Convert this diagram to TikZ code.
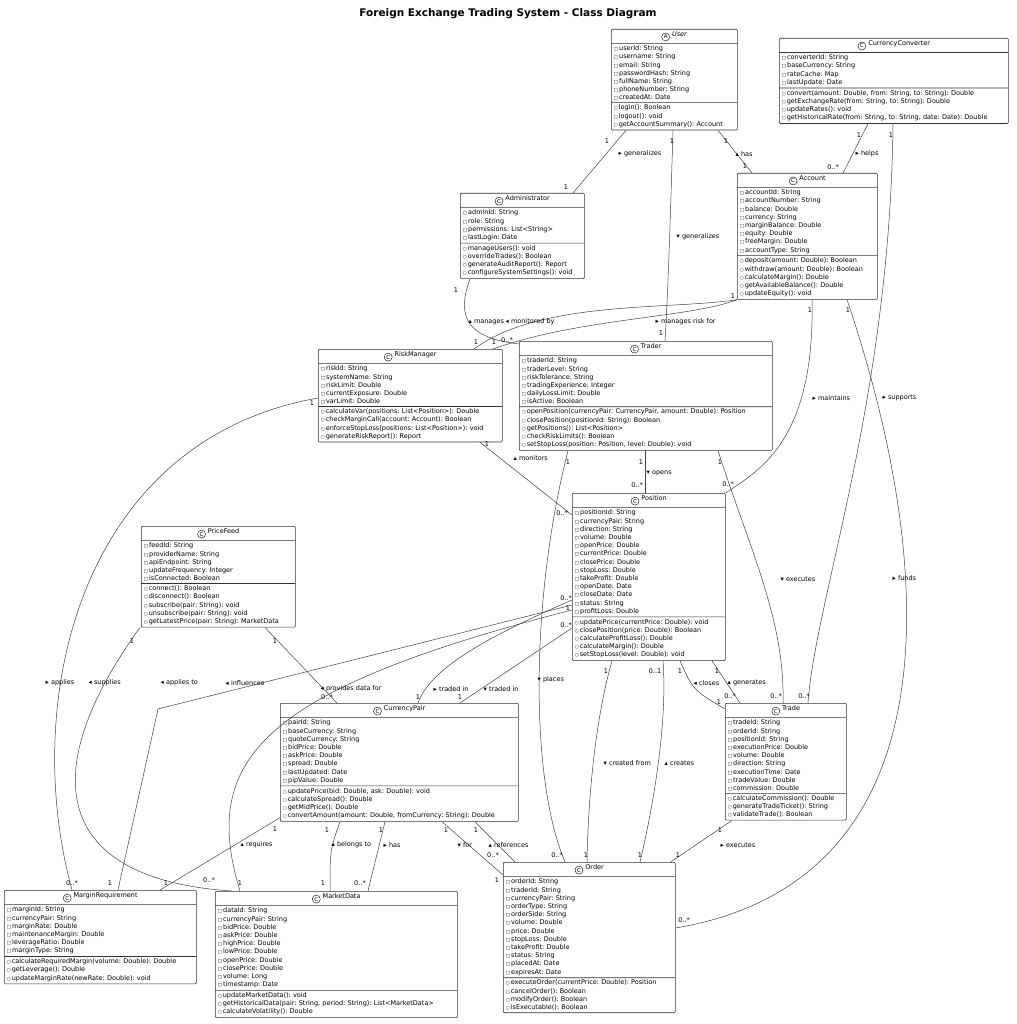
\documentclass[tikz,border=0pt]{standalone}
\usepackage{fontspec}
\setmainfont{DejaVu Sans}
\frenchspacing
\usetikzlibrary{shapes.multipart}
\newcommand\pv{{\fontsize{4.5}{4.5}\selectfont □}\,}
\newcommand\pb{{\fontsize{4.5}{4.5}\selectfont ○}\,}
\newcommand\cic[1]{\tikz[baseline=-2.4pt]\node[circle,draw,line width=0.4pt,inner sep=0pt,minimum size=8pt,font=\fontsize{5.5}{6}\selectfont]{#1};}
\tikzset{
 uml/.style={draw=black!80,line width=0.6pt,fill=white,rectangle split,rectangle split parts=3,
   align=left,anchor=north west,inner xsep=2.5pt,inner ysep=2pt,rounded corners=1pt,
   font=\fontsize{6.5}{8.2}\selectfont},
 lbl/.style={font=\fontsize{6.5}{7}\selectfont,inner sep=0.5pt},
 ll/.style={lbl,anchor=west},
 cn/.style={draw=black!75,line width=0.5pt}
}
\newcommand\umlc[7]{\node[uml,text width=#4pt-5pt] (#1) at (#2,#3) {\centering\cic{C}\ #5\par\nodepart{two}#6\nodepart{three}#7};}
\begin{document}
\begin{tikzpicture}[x=1pt,y=-1pt]
\useasboundingbox (0,0) rectangle (1016,1024);
\node[font=\fontsize{10.5}{12}\selectfont\bfseries] (title) at (508,14) {Foreign Exchange Trading System - Class Diagram};

\node[uml,text width=121pt] (user) at (611,29) {\centering\cic{A}\ \textit{User}\par\nodepart{two}\pv userId: String\\\pv username: String\\\pv email: String\\\pv passwordHash: String\\\pv fullName: String\\\pv phoneNumber: String\\\pv createdAt: Date\nodepart{three}\pb login(): Boolean\\\pb logout(): void\\\pb getAccountSummary(): Account};

\umlc{conv}{779}{38}{229}{CurrencyConverter}{\pv converterId: String\\\pv baseCurrency: String\\\pv rateCache: Map\\\pv lastUpdate: Date}{\pb convert(amount: Double, from: String, to: String): Double\\\pb getExchangeRate(from: String, to: String): Double\\\pb updateRates(): void\\\pb getHistoricalRate(from: String, to: String, date: Date): Double}

\umlc{acct}{737}{173}{140}{Account}{\pv accountId: String\\\pv accountNumber: String\\\pv balance: Double\\\pv currency: String\\\pv marginBalance: Double\\\pv equity: Double\\\pv freeMargin: Double\\\pv accountType: String}{\pb deposit(amount: Double): Boolean\\\pb withdraw(amount: Double): Boolean\\\pb calculateMargin(): Double\\\pb getAvailableBalance(): Double\\\pb updateEquity(): void}

\umlc{admin}{460}{193}{124}{Administrator}{\pv adminId: String\\\pv role: String\\\pv permissions: List<String>\\\pv lastLogin: Date}{\pb manageUsers(): void\\\pb overrideTrades(): Boolean\\\pb generateAuditReport(): Report\\\pb configureSystemSettings(): void}

\umlc{risk}{318}{349}{184}{RiskManager}{\pv riskId: String\\\pv systemName: String\\\pv riskLimit: Double\\\pv currentExposure: Double\\\pv varLimit: Double}{\pb calculateVar(positions: List<Position>): Double\\\pb checkMarginCall(account: Account): Boolean\\\pb enforceStopLoss(positions: List<Position>): void\\\pb generateRiskReport(): Report}

\umlc{trader}{519}{341}{253}{Trader}{\pv traderId: String\\\pv traderLevel: String\\\pv riskTolerance: String\\\pv tradingExperience: Integer\\\pv dailyLossLimit: Double\\\pv isActive: Boolean}{\pb openPosition(currencyPair: CurrencyPair, amount: Double): Position\\\pb closePosition(positionId: String): Boolean\\\pb getPositions(): List<Position>\\\pb checkRiskLimits(): Boolean\\\pb setStopLoss(position: Position, level: Double): void}

\umlc{pos}{572}{493}{153}{Position}{\pv positionId: String\\\pv currencyPair: String\\\pv direction: String\\\pv volume: Double\\\pv openPrice: Double\\\pv currentPrice: Double\\\pv closePrice: Double\\\pv stopLoss: Double\\\pv takeProfit: Double\\\pv openDate: Date\\\pv closeDate: Date\\\pv status: String\\\pv profitLoss: Double}{\pb updatePrice(currentPrice: Double): void\\\pb closePosition(price: Double): Boolean\\\pb calculateProfitLoss(): Double\\\pb calculateMargin(): Double\\\pb setStopLoss(level: Double): void}

\umlc{feed}{141}{526}{154}{PriceFeed}{\pv feedId: String\\\pv providerName: String\\\pv apiEndpoint: String\\\pv updateFrequency: Integer\\\pv isConnected: Boolean}{\pb connect(): Boolean\\\pb disconnect(): Boolean\\\pb subscribe(pair: String): void\\\pb unsubscribe(pair: String): void\\\pb getLatestPrice(pair: String): MarketData}

\umlc{cp}{280}{703}{238}{CurrencyPair}{\pv pairId: String\\\pv baseCurrency: String\\\pv quoteCurrency: String\\\pv bidPrice: Double\\\pv askPrice: Double\\\pv spread: Double\\\pv lastUpdated: Date\\\pv pipValue: Double}{\pb updatePrice(bid: Double, ask: Double): void\\\pb calculateSpread(): Double\\\pb getMidPrice(): Double\\\pb convertAmount(amount: Double, fromCurrency: String): Double}

\umlc{trade}{725}{703}{121}{Trade}{\pv tradeId: String\\\pv orderId: String\\\pv positionId: String\\\pv executionPrice: Double\\\pv volume: Double\\\pv direction: String\\\pv executionTime: Date\\\pv tradeValue: Double\\\pv commission: Double}{\pb calculateCommission(): Double\\\pb generateTradeTicket(): String\\\pb validateTrade(): Boolean}

\umlc{mreq}{4}{890}{192}{MarginRequirement}{\pv marginId: String\\\pv currencyPair: String\\\pv marginRate: Double\\\pv maintenanceMargin: Double\\\pv leverageRatio: Double\\\pv marginType: String}{\pb calculateRequiredMargin(volume: Double): Double\\\pb getLeverage(): Double\\\pb updateMarginRate(newRate: Double): void}

\umlc{mdata}{215}{891}{242}{MarketData}{\pv dataId: String\\\pv currencyPair: String\\\pv bidPrice: Double\\\pv askPrice: Double\\\pv highPrice: Double\\\pv lowPrice: Double\\\pv openPrice: Double\\\pv closePrice: Double\\\pv volume: Long\\\pv timestamp: Date}{\pb updateMarketData(): void\\\pb getHistoricalData(pair: String, period: String): List<MarketData>\\\pb calculateVolatility(): Double}

\umlc{order}{503}{862}{172}{Order}{\pv orderId: String\\\pv traderId: String\\\pv currencyPair: String\\\pv orderType: String\\\pv orderSide: String\\\pv volume: Double\\\pv price: Double\\\pv stopLoss: Double\\\pv takeProfit: Double\\\pv status: String\\\pv placedAt: Date\\\pv expiresAt: Date}{\pb executeOrder(currentPrice: Double): Position\\\pb cancelOrder(): Boolean\\\pb modifyOrder(): Boolean\\\pb isExecutable(): Boolean}

\coordinate (bendA) at (158,709);

\draw[cn] ([xshift=15]user.south west) -- ([xshift=113]admin.north west);
\draw[cn] ([xshift=62]user.south west) .. controls (670,230) and (668,290) .. ([xshift=146]trader.north west);
\draw[cn] ([xshift=107]user.south west) -- ([xshift=15]acct.north west);
\draw[cn] ([xshift=89]conv.south west) -- ([xshift=106]acct.north west);
\draw[cn] ([xshift=114]conv.south west) .. controls (890,400) and (815,600) .. ([xshift=83]trade.north west);
\draw[cn] ([xshift=10]admin.south west) .. controls (455,320) and (470,338) .. ([yshift=-3]trader.north west);
\draw[cn] ([xshift=156]risk.north west) .. controls (540,300) and (670,310) .. (acct.south west);
\draw[cn] ([xshift=175]risk.north west) .. controls (580,318) and (690,318) .. (acct.south west);
\draw[cn] ([xshift=162]risk.south west) -- ([yshift=-22]pos.north west);
\draw[cn] ([xshift=126]trader.south west) -- ([xshift=73]pos.north west);
\draw[cn] ([xshift=199]trader.south west) .. controls (750,550) and (785,620) .. ([xshift=58]trade.north west);
\draw[cn] ([xshift=75]acct.south west) .. controls (815,440) and (760,470) .. (pos.north east);
\draw[cn] ([xshift=110]acct.south west) .. controls (935,560) and (960,880) .. ([yshift=-66]order.north east);
\draw[cn] ([xshift=49]trader.south west) .. controls (530,600) and (530,780) .. ([xshift=62]order.north west);
\draw[cn] ([xshift=40]pos.south west) .. controls (595,720) and (588,800) .. ([xshift=84]order.north west);
\draw[cn] ([xshift=91]pos.south west) .. controls (668,730) and (650,820) .. ([xshift=137]order.north west);
\draw[cn] ([xshift=108]pos.south west) .. controls (693,690) .. ([yshift=-6]trade.north west);
\draw[cn] ([xshift=140]pos.south west) -- ([xshift=15]trade.north west);
\draw[cn] ([xshift=7]trade.south west) -- ([xshift=-5]order.north east);
\draw[cn] ([yshift=-107]pos.north west) .. controls (480,640) and (430,670) .. ([xshift=138]cp.north west);
\draw[cn] ([yshift=-135]pos.north west) -- ([xshift=180]cp.north west);
\draw[cn] ([yshift=-112]pos.north west) -- (bendA) -- ([xshift=114]mreq.north west);
\draw[cn] ([yshift=-117]pos.north west) .. controls (260,690) and (200,760) .. ([xshift=25]mdata.north west);
\draw[cn] ([xshift=-1]feed.south west) .. controls (30,780) and (60,880) .. ([xshift=17]mdata.north west);
\draw[cn] ([yshift=-49]risk.north west) .. controls (80,440) and (20,700) .. ([xshift=68]mreq.north west);
\draw[cn] ([xshift=124]feed.south west) -- ([xshift=57]cp.north west);
\draw[cn] ([yshift=4]cp.south west) -- ([xshift=156]mreq.north west);
\draw[cn] ([xshift=60]cp.south west) .. controls (330,850) .. ([xshift=115]mdata.north west);
\draw[cn] ([xshift=105]cp.south west) .. controls (378,850) .. ([xshift=153]mdata.north west);
\draw[cn] ([xshift=162]cp.south west) -- ([yshift=-13]order.north west);
\draw[cn] ([xshift=195]cp.south west) -- ([xshift=12]order.north west);

% labels
\node[lbl] (a1) at (607,141) {1};
\node[lbl] (a2) at (566,187) {1};
\node[ll] (a3) at (618,154) {▸ generalizes};
\node[lbl] (b1) at (672,141) {1};
\node[lbl] (b2) at (661,333) {1};
\node[ll] (b3) at (676,237) {▾ generalizes};
\node[lbl] (c1) at (726,141) {1};
\node[lbl] (c2) at (745,166) {1};
\node[ll] (c3) at (735,154) {▴ has};
\node[lbl] (d1) at (859,135) {1};
\node[lbl] (d2) at (833,167) {0..*};
\node[ll] (d3) at (855,154) {▸ helps};
\node[lbl] (e1) at (891,135) {1};
\node[lbl] (e2) at (804,696) {0..*};
\node[ll] (e3) at (882,398) {▸ supports};
\node[lbl] (f1) at (456,290) {1};
\node[lbl] (f2) at (507,340) {0..*};
\node[ll] (f3) at (468,322) {▴ manages};
\node[lbl] (g1) at (476,342) {1};
\node[lbl] (g2) at (494,342) {1};
\node[lbl] (g3) at (733,296) {1};
\node[ll] (g4) at (505,322) {◂ monitored by};
\node[ll] (g5) at (655,322) {▸ manages risk for};
\node[lbl] (h1) at (487,444) {1};
\node[lbl] (h2) at (562,513) {0..*};
\node[ll] (h3) at (513,458) {▴ monitors};
\node[lbl] (i1) at (641,462) {1};
\node[lbl] (i2) at (637,485) {0..*};
\node[ll] (i3) at (646,473) {▾ opens};
\node[lbl] (j1) at (720,462) {1};
\node[lbl] (j2) at (776,696) {0..*};
\node[ll] (j3) at (780,579) {▾ executes};
\node[lbl] (k1) at (810,310) {1};
\node[lbl] (k2) at (728,484) {0..*};
\node[ll] (k3) at (812,398) {▸ maintains};
\node[lbl] (l1) at (848,310) {1};
\node[lbl] (l2) at (684,920) {0..*};
\node[ll] (l3) at (892,578) {▸ funds};
\node[lbl] (m1) at (568,462) {1};
\node[lbl] (m2) at (557,855) {0..*};
\node[ll] (m3) at (537,680) {▾ places};
\node[lbl] (n1) at (606,671) {1};
\node[lbl] (n2) at (586,855) {1};
\node[ll] (n3) at (603,763) {▾ created from};
\node[lbl] (o1) at (655,671) {0..1};
\node[lbl] (o2) at (640,855) {1};
\node[ll] (o3) at (664,763) {▴ creates};
\node[lbl] (p1) at (680,671) {1};
\node[lbl] (p2) at (719,702) {1};
\node[ll] (p3) at (693,683) {◂ closes};
\node[lbl] (q1) at (717,671) {1};
\node[lbl] (q2) at (730,696) {0..*};
\node[ll] (q3) at (727,683) {▴ generates};
\node[lbl] (r1) at (720,830) {1};
\node[lbl] (r2) at (678,855) {1};
\node[ll] (r3) at (720,845) {▸ executes};
\node[lbl] (s1) at (566,598) {0..*};
\node[lbl] (s2) at (568,608) {1};
\node[lbl] (s3) at (566,625) {0..*};
\node[lbl] (s4) at (418,697) {1};
\node[lbl] (s5) at (460,697) {1};
\node[ll] (s6) at (433,689) {▸ traded in};
\node[ll] (s7) at (483,689) {▾ traded in};
\node[lbl] (t1) at (110,883) {1};
\node[ll] (t2) at (160,683) {◂ applies to};
\node[ll] (t3) at (225,683) {◂ influences};
\node[lbl] (t4) at (240,883) {1};
\node[lbl] (u1) at (132,641) {1};
\node[lbl] (u2) at (209,880) {0..*};
\node[ll] (u3) at (88,683) {◂ supplies};
\node[lbl] (v1) at (312,403) {1};
\node[lbl] (v2) at (72,883) {0..*};
\node[ll] (v3) at (45,683) {▸ applies};
\node[lbl] (w1) at (275,641) {1};
\node[lbl] (w2) at (327,697) {0..*};
\node[ll] (w3) at (320,689) {◂ provides data for};
\node[lbl] (x1) at (275,829) {1};
\node[lbl] (x2) at (166,883) {1};
\node[ll] (x3) at (240,845) {▴ requires};
\node[lbl] (y1) at (327,830) {1};
\node[lbl] (y2) at (323,883) {1};
\node[ll] (y3) at (331,845) {▴ belongs to};
\node[lbl] (z1) at (381,830) {1};
\node[lbl] (z2) at (360,883) {0..*};
\node[ll] (z3) at (383,845) {▸ has};
\node[lbl] (aa1) at (446,830) {1};
\node[lbl] (aa2) at (497,880) {1};
\node[ll] (aa3) at (457,845) {▾ for};
\node[lbl] (bb1) at (476,830) {1};
\node[lbl] (bb2) at (493,855) {0..*};
\node[ll] (bb3) at (488,845) {▴ references};
\end{tikzpicture}
\end{document}
